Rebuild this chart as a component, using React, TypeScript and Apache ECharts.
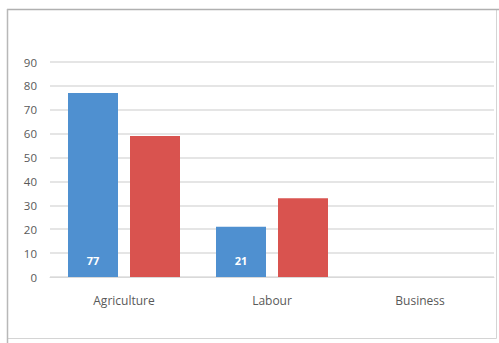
import React, { useEffect, useRef } from "react";
import * as echarts from "echarts";

const categories = ["Agriculture", "Labour", "Business"];
const seriesA = [77, 21, null];
const seriesB = [59, 33, null];
const yTicks = { min: 0, max: 90, interval: 10 };

export default function App() {
  const ref = useRef<HTMLDivElement>(null);
  useEffect(() => {
    const chart = echarts.init(ref.current!, null, { renderer: "svg" });
    chart.setOption({
      animation: false,
      backgroundColor: "#ffffff",
      textStyle: { fontFamily: "Open Sans, Noto Sans, sans-serif" },
      graphic: [
        {
          type: "rect",
          shape: { x: 7.5, y: 9.5, width: 489, height: 329 },
          style: { fill: "none", stroke: "#d4d4d4", lineWidth: 1 },
          z: 0,
        },
        {
          type: "line",
          shape: { x1: 7, y1: 9.5, x2: 499, y2: 9.5 },
          style: { stroke: "#b0b0b0", lineWidth: 1.5 },
        },
        {
          type: "line",
          shape: { x1: 7.5, y1: 9, x2: 7.5, y2: 343 },
          style: { stroke: "#b8b8b8", lineWidth: 1.5 },
        },
      ],
      grid: { left: 50, right: 5, top: 62, bottom: 66 },
      xAxis: {
        type: "category",
        data: categories,
        axisLine: { lineStyle: { color: "#d9d9d9" } },
        axisTick: { show: false },
        axisLabel: { color: "#595959", fontSize: 12, margin: 17 },
      },
      yAxis: {
        type: "value",
        min: yTicks.min,
        max: yTicks.max,
        interval: yTicks.interval,
        axisLine: { show: false },
        axisTick: { show: false },
        splitLine: { lineStyle: { color: "#dcdcdc", width: 1.5 } },
        axisLabel: { color: "#595959", fontSize: 11.5, margin: 13 },
      },
      series: [
        {
          type: "bar",
          data: seriesA,
          barWidth: 50,
          barGap: "24%",
          itemStyle: { color: "#4f90d0" },
          label: {
            show: true,
            position: "insideBottom",
            distance: 11,
            color: "#ffffff",
            fontWeight: "bold",
            fontSize: 11,
          },
        },
        {
          type: "bar",
          data: seriesB,
          barWidth: 50,
          itemStyle: { color: "#d9534f" },
        },
      ],
    });
    return () => chart.dispose();
  }, []);
  return (
    <div
      ref={ref}
      style={{ position: "fixed", left: 0, top: 0, width: 499, height: 343 }}
    />
  );
}
